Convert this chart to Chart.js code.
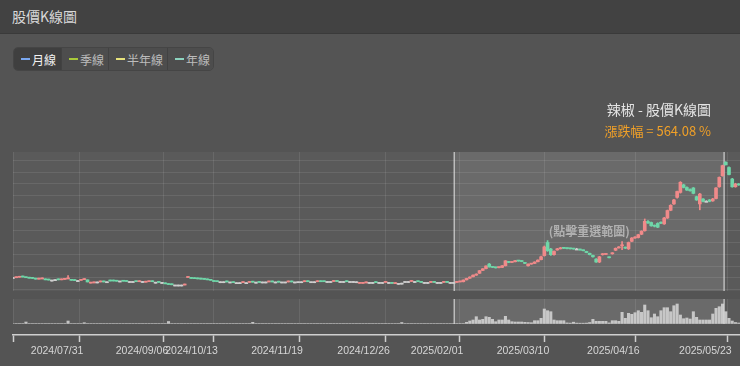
<!DOCTYPE html>
<html lang="zh-Hant">
<head>
<meta charset="utf-8">
<title>股價K線圖</title>
<script src="https://cdn.jsdelivr.net/npm/chart.js@4.4.1/dist/chart.umd.min.js"></script>
<style>
    html, body { margin: 0; padding: 0; width: 740px; height: 366px; overflow: hidden; background: #545454; font-family: "Noto Sans CJK TC", "Noto Sans", sans-serif; }
    .header { position: absolute; left: 0; top: 0; width: 740px; height: 34px; box-sizing: border-box; padding-left: 12px; background: #424242; border-bottom: 1px solid #3a3a3a; color: #d8d8d8; font-size: 14px; line-height: 32px; }
    .btns { position: absolute; left: 13px; top: 47px; height: 24px; display: flex; border-radius: 5px; overflow: hidden; border: 1px solid #454545; box-sizing: border-box; }
    .btns span { display: flex; align-items: center; box-sizing: border-box; padding-left: 7px; font-size: 12px; color: #bcbcbc; background: #4d4d4d; border-left: 1px solid #424242; }
    .btns span.on { background: #3f3f3f; color: #f2f2f2; border-left: none; }
    .btns i { display: inline-block; width: 9px; height: 2px; margin-right: 2px; }
    .ttl { position: absolute; right: 29px; top: 100px; color: #e4e4e4; font-size: 14px; line-height: 18px; white-space: nowrap; }
    .sub { position: absolute; right: 29px; top: 123px; color: #f0a028; font-size: 13px; line-height: 16px; white-space: nowrap; }
    #wrap { position: absolute; left: 0; top: 0; width: 740px; height: 366px; }
</style>
</head>
<body>
<div class="header">股價K線圖</div>
<div class="btns">
    <span class="on" style="width:47px"><i style="background:#7aa7f0"></i>月線</span>
    <span style="width:47px"><i style="background:#a9c93a"></i>季線</span>
    <span style="width:59px"><i style="background:#e6e27c"></i>半年線</span>
    <span style="width:46px"><i style="background:#8cd3bf"></i>年線</span>
</div>
<div id="wrap"><canvas id="kChart" width="740" height="366"></canvas></div>
<div class="ttl">辣椒 - 股價K線圖</div>
<div class="sub">漲跌幅 = 564.08 %</div>

<script>
    // trading day index -> OHLC and volume (lots)
    var open = [
        10.2, 10.1, 10.3, 10.5, 10.2, 10.0, 9.9, 9.6, 9.5, 9.6, 9.4, 9.2, 9.1, 9.3, 9.3,
        9.2, 9.4, 9.6, 9.4, 9.0, 8.9, 9.0, 9.3, 9.2, 7.8, 7.9, 8.3, 8.3, 8.4, 8.4,
        8.8, 8.8, 8.8, 8.7, 8.7, 8.6, 8.5, 8.5, 8.5, 8.4, 8.5, 8.2, 8.4, 8.6, 8.2,
        8.2, 8.1, 7.9, 7.5, 7.2, 7.0, 7.0, 7.0, 7.0, 10.2, 10.0, 9.8, 9.7, 9.6, 9.5,
        9.4, 9.2, 8.6, 8.5, 8.4, 8.4, 8.4, 8.3, 8.1, 8.0, 8.0, 8.0, 8.0, 8.1, 8.3,
        8.2, 8.2, 8.3, 8.3, 8.3, 8.4, 8.3, 8.4, 8.3, 8.3, 8.3, 8.4, 8.3, 8.4, 8.4,
        8.4, 8.5, 8.4, 8.4, 8.4, 8.6, 8.5, 8.5, 8.5, 8.5, 8.6, 8.5, 8.5, 8.5, 8.5,
        8.5, 8.4, 7.7, 7.7, 7.9, 8.1, 8.1, 8.1, 8.1, 8.1, 8.1, 8.1, 8.0, 7.6, 7.7,
        7.8, 8.5, 8.5, 8.5, 8.5, 8.5, 8.2, 8.1, 8.1, 8.1, 8.2, 8.1, 8.1, 8.1, 8.2,
        8.1, 8.1, 8.1, 8.3, 8.4, 9.2, 9.9, 10.5, 11.2, 12.0, 13.2, 14.0, 15.9, 14.7, 14.4,
        14.4, 14.5, 15.2, 16.9, 16.6, 16.9, 17.3, 17.2, 16.6, 15.2, 15.9, 16.2, 16.9, 17.8, 19.5,
        25.1, 22.3, 19.9, 21.9, 22.4, 22.7, 22.6, 22.5, 22.4, 22.3, 22.2, 21.8, 21.3, 20.5, 19.6,
        18.0, 16.8, 19.9, 20.0, 18.9, 20.3, 21.8, 22.8, 23.7, 23.0, 22.4, 25.6, 27.0, 27.2, 28.6,
        30.1, 34.0, 33.6, 32.2, 33.2, 33.6, 33.0, 35.5, 38.8, 41.5, 44.3, 46.4, 49.6, 48.5, 47.6,
        48.3, 44.6, 41.5, 43.6, 42.6, 43.2, 42.8, 43.8, 48.8, 53.5, 59.2, 57.0, 52.1, 48.8, 50.0
    ];
    var close = [
        10.2, 10.3, 10.5, 10.4, 10.1, 9.9, 9.8, 9.5, 9.7, 9.7, 9.2, 9.1, 9.1, 9.3, 9.2,
        9.3, 9.6, 9.9, 9.0, 8.9, 8.9, 9.3, 9.4, 8.3, 8.0, 8.1, 8.3, 8.4, 8.3, 8.4,
        8.7, 8.7, 8.6, 8.7, 8.6, 8.5, 8.5, 8.5, 8.4, 8.5, 8.5, 8.4, 8.8, 8.4, 8.2,
        8.1, 8.1, 7.5, 7.2, 7.1, 7.0, 7.0, 7.0, 7.1, 10.3, 9.8, 9.7, 9.6, 9.5, 9.4,
        9.2, 9.0, 8.5, 8.4, 8.4, 8.4, 8.3, 8.3, 8.0, 8.0, 8.0, 8.1, 8.0, 8.3, 8.2,
        8.2, 8.1, 8.3, 8.3, 8.4, 8.3, 8.3, 8.2, 8.3, 8.3, 8.4, 8.3, 8.3, 8.4, 8.4,
        8.5, 8.4, 8.4, 8.4, 8.5, 8.4, 8.4, 8.5, 8.5, 8.6, 8.5, 8.5, 8.5, 8.4, 8.5,
        8.5, 8.4, 7.8, 7.9, 8.0, 8.1, 8.1, 8.0, 8.1, 8.1, 8.2, 8.1, 7.7, 7.8, 7.7,
        7.8, 8.5, 8.5, 8.6, 8.5, 8.4, 8.1, 8.1, 8.1, 8.2, 8.1, 8.1, 8.1, 8.2, 8.1,
        8.1, 8.1, 8.2, 8.4, 9.1, 9.8, 10.4, 11.2, 11.6, 13.1, 13.9, 15.1, 14.7, 14.5, 14.3,
        14.6, 15.2, 17.3, 16.6, 16.9, 17.4, 17.2, 17.0, 16.2, 15.9, 16.0, 16.8, 17.6, 19.0, 23.2,
        21.6, 19.9, 21.3, 22.4, 22.8, 22.6, 22.5, 22.4, 22.3, 22.3, 21.9, 21.6, 20.8, 19.9, 19.0,
        16.8, 19.0, 20.2, 20.1, 18.6, 20.7, 22.6, 23.2, 23.8, 22.7, 25.1, 27.0, 27.3, 28.4, 29.9,
        34.1, 33.4, 32.2, 32.0, 31.6, 33.3, 35.5, 38.7, 40.9, 43.2, 46.8, 50.7, 48.5, 47.4, 47.1,
        46.0, 43.2, 45.7, 42.6, 42.6, 42.6, 43.6, 48.3, 52.8, 57.8, 58.2, 54.0, 48.8, 50.0, 49.6
    ];
    var high = [
        10.2, 10.3, 10.5, 10.5, 10.2, 10.0, 9.9, 9.6, 9.7, 9.7, 9.4, 9.2, 9.1, 9.3, 9.3,
        9.3, 9.6, 11.0, 9.4, 9.0, 8.9, 9.3, 9.4, 9.2, 8.0, 8.1, 8.3, 8.4, 8.4, 8.4,
        8.8, 8.8, 8.8, 8.7, 8.7, 8.6, 8.5, 8.5, 8.5, 8.5, 8.5, 8.4, 8.8, 8.6, 8.2,
        8.2, 8.1, 7.9, 7.5, 7.2, 7.0, 7.0, 7.0, 7.1, 10.4, 10.0, 9.8, 9.7, 9.6, 9.5,
        9.4, 9.2, 8.6, 8.5, 8.4, 8.4, 8.4, 8.3, 8.1, 8.0, 8.0, 8.1, 8.0, 8.3, 8.3,
        8.2, 8.2, 8.3, 8.3, 8.4, 8.4, 8.3, 8.4, 8.3, 8.3, 8.4, 8.4, 8.3, 8.4, 8.4,
        8.5, 8.5, 8.4, 8.4, 8.5, 8.6, 8.5, 8.5, 8.5, 8.6, 8.6, 8.5, 8.5, 8.5, 8.5,
        8.5, 8.4, 7.8, 7.9, 8.0, 8.1, 8.1, 8.1, 8.1, 8.1, 8.2, 8.1, 8.0, 7.8, 7.7,
        7.8, 8.5, 8.5, 8.6, 8.5, 8.5, 8.2, 8.1, 8.1, 8.2, 8.2, 8.1, 8.1, 8.2, 8.2,
        8.1, 8.1, 8.2, 8.4, 9.2, 9.9, 10.5, 11.3, 11.8, 13.2, 14.0, 15.2, 16.2, 14.8, 14.5,
        14.7, 15.3, 17.4, 17.0, 17.0, 17.5, 17.4, 17.3, 16.7, 16.0, 16.2, 16.9, 17.7, 19.3, 23.6,
        25.9, 22.6, 21.5, 22.6, 23.0, 22.8, 22.7, 22.6, 22.5, 22.4, 22.3, 21.9, 21.4, 20.6, 19.7,
        18.2, 19.2, 20.4, 20.3, 19.0, 20.8, 22.8, 23.4, 25.5, 23.2, 25.3, 27.2, 27.6, 28.6, 30.1,
        35.1, 34.4, 33.8, 32.6, 33.5, 33.9, 35.8, 38.9, 41.2, 43.5, 47.0, 51.0, 49.9, 48.8, 47.9,
        48.5, 44.8, 46.0, 43.8, 42.9, 43.4, 43.9, 48.5, 53.0, 58.0, 59.5, 57.3, 52.4, 50.3, 50.2
    ];
    var low = [
        10.2, 10.1, 10.3, 10.4, 10.1, 9.9, 9.8, 9.5, 9.5, 9.6, 9.2, 9.1, 9.1, 9.3, 9.2,
        9.2, 9.4, 9.6, 9.0, 8.9, 8.9, 9.0, 9.3, 8.3, 7.8, 7.9, 8.3, 8.3, 8.3, 8.4,
        8.7, 8.7, 8.6, 8.7, 8.6, 8.5, 8.5, 8.5, 8.4, 8.4, 8.5, 8.2, 8.4, 8.4, 8.2,
        8.1, 8.1, 7.5, 7.2, 7.1, 7.0, 7.0, 7.0, 7.0, 10.2, 9.8, 9.7, 9.6, 9.5, 9.4,
        9.2, 9.0, 8.5, 8.4, 8.4, 8.4, 8.3, 8.3, 8.0, 8.0, 8.0, 8.0, 8.0, 8.1, 8.2,
        8.2, 8.1, 8.3, 8.3, 8.3, 8.3, 8.3, 8.2, 8.3, 8.3, 8.3, 8.3, 8.3, 8.4, 8.4,
        8.4, 8.4, 8.4, 8.4, 8.4, 8.4, 8.4, 8.5, 8.5, 8.5, 8.5, 8.5, 8.5, 8.4, 8.5,
        8.5, 8.4, 7.7, 7.7, 7.9, 8.1, 8.1, 8.0, 8.1, 8.1, 8.1, 8.1, 7.7, 7.6, 7.7,
        7.8, 8.5, 8.5, 8.5, 8.5, 8.4, 8.1, 8.1, 8.1, 8.1, 8.1, 8.1, 8.1, 8.1, 8.1,
        8.1, 8.1, 8.1, 8.3, 8.3, 9.1, 9.8, 10.4, 11.1, 11.9, 13.1, 13.9, 14.6, 14.4, 14.2,
        14.3, 14.4, 15.1, 16.5, 16.5, 16.8, 17.1, 16.9, 16.1, 15.0, 15.8, 16.1, 16.8, 17.7, 19.3,
        21.3, 19.6, 19.7, 21.8, 22.3, 22.5, 22.4, 22.3, 22.2, 22.2, 21.8, 21.5, 20.7, 19.8, 18.9,
        16.6, 16.5, 19.7, 19.9, 18.5, 20.1, 21.6, 22.7, 22.0, 22.5, 22.1, 25.4, 26.8, 27.0, 28.4,
        29.9, 33.2, 32.0, 31.7, 31.4, 33.1, 32.8, 35.3, 38.6, 41.3, 44.0, 46.1, 48.3, 47.2, 46.9,
        45.8, 43.0, 39.0, 42.4, 42.4, 42.4, 42.6, 43.6, 48.6, 53.3, 58.0, 53.8, 48.6, 48.6, 49.4
    ];
    var volume = [
        0, 0, 0, 0, 150, 0, 0, 0, 0, 0, 0, 0, 0, 0, 0,
        0, 0, 250, 0, 0, 0, 0, 80, 0, 0, 0, 0, 0, 0, 0,
        0, 0, 0, 0, 0, 0, 0, 0, 0, 0, 0, 0, 0, 0, 0,
        0, 0, 0, 200, 0, 0, 0, 0, 0, 0, 0, 0, 0, 0, 0,
        0, 0, 0, 0, 0, 0, 0, 0, 0, 0, 0, 0, 0, 0, 120,
        0, 0, 0, 0, 0, 0, 0, 0, 0, 0, 0, 0, 0, 0, 0,
        0, 0, 0, 0, 0, 0, 0, 0, 0, 0, 0, 0, 0, 0, 0,
        0, 0, 0, 0, 0, 0, 0, 0, 0, 0, 0, 0, 0, 0, 0,
        100, 0, 0, 0, 0, 0, 0, 0, 0, 0, 0, 0, 0, 0, 0,
        0, 0, 0, 0, 0, 120, 250, 350, 680, 350, 420, 680, 620, 420, 180,
        350, 350, 720, 350, 180, 150, 150, 150, 120, 100, 80, 280, 280, 520, 1450,
        1280, 1180, 350, 280, 280, 280, 60, 40, 130, 40, 30, 30, 40, 100, 420,
        220, 220, 220, 220, 60, 280, 280, 220, 1120, 520, 1020, 920, 1080, 1280, 1120,
        1850, 1280, 580, 950, 680, 1280, 1580, 1580, 1180, 1780, 1950, 850, 480, 550, 450,
        1180, 620, 350, 350, 350, 350, 950, 1520, 1680, 1950, 1180, 520, 250, 100, 50
    ];

    // date ticks on the ordinal (trading day) axis
    var tickIndex = [0, 20.4, 46.6, 61.9, 88.3, 115.0, 137.7, 164.2, 192.1, 220.5];
    var tickLabels = ['', '2024/07/31', '2024/09/06', '2024/10/13', '2024/11/19', '2024/12/26', '2025/02/01', '2025/03/10', '2025/04/16', '2025/05/23'];
    var priceGrid = [5, 10, 15, 20, 25, 30, 35, 40, 45, 50, 55, 60];

    // selected range (trading day index)
    var selStart = 136.2;
    var selEnd = 219.5;

    var upColor = '#f08a8a';
    var downColor = '#6fd6a8';
    var flatColor = '#cfcfcf';

    // pane layout, px from the top of the chart area
    var panes = { mainHeight: 139, volTop: 147, volBottom: 172 };

    function candleColor(i) {
        if (close[i] > open[i]) return upColor;
        if (close[i] < open[i]) return downColor;
        return flatColor;
    }

    var colors = open.map(function (o, i) { return candleColor(i); });
    var bodyData = open.map(function (o, i) { return { x: i, y: [o, close[i]] }; });
    var wickData = high.map(function (h, i) { return { x: i, y: [low[i], h] }; });
    var volData = volume.map(function (v, i) { return { x: i, y: v }; });

    var panePlugin = {
        id: 'panes',
        beforeDraw: function (chart) {
            var ctx = chart.ctx, a = chart.chartArea;
            ctx.save();
            ctx.fillStyle = '#5a5a5a';
            ctx.fillRect(a.left, a.top, a.right - a.left, panes.mainHeight);
            ctx.fillRect(a.left, a.top + panes.volTop, a.right - a.left, panes.volBottom - panes.volTop);
            ctx.restore();
        },
        beforeDatasetsDraw: function (chart) {
            var ctx = chart.ctx, a = chart.chartArea, x = chart.scales.x;
            var w = a.right - a.left;
            ctx.save();
            // gaps between panes hide the grid
            ctx.fillStyle = '#545454';
            ctx.fillRect(a.left, a.top + panes.mainHeight, w, panes.volTop - panes.mainHeight);
            ctx.fillRect(a.left, a.top + panes.volBottom, w, a.bottom - 1 - (a.top + panes.volBottom));

            // selected range
            var x0 = x.getPixelForValue(selStart);
            var x1 = x.getPixelForValue(selEnd);
            ctx.fillStyle = 'rgba(255,255,255,0.1)';
            ctx.fillRect(x0, a.top, x1 - x0, panes.mainHeight);
            ctx.fillRect(x0, a.top + panes.volTop, x1 - x0, panes.volBottom - panes.volTop);

            ctx.strokeStyle = 'rgba(225,225,225,0.7)';
            ctx.lineWidth = 1.5;
            [x0, x1].forEach(function (px) {
                ctx.beginPath();
                ctx.moveTo(px, a.top);
                ctx.lineTo(px, a.top + panes.mainHeight);
                ctx.moveTo(px, a.top + panes.volTop);
                ctx.lineTo(px, a.top + panes.volBottom);
                ctx.stroke();
            });
            ctx.restore();
        },
        afterDatasetsDraw: function (chart) {
            var ctx = chart.ctx, a = chart.chartArea, x = chart.scales.x;
            var cx = (x.getPixelForValue(selStart) + x.getPixelForValue(selEnd)) / 2;
            ctx.save();
            ctx.font = 'bold 12px "Noto Sans CJK TC"';
            ctx.fillStyle = 'rgba(200,200,200,0.75)';
            ctx.textAlign = 'center';
            ctx.textBaseline = 'middle';
            ctx.fillText('(點擊重選範圍)', cx, a.top + 79);
            ctx.restore();
        }
    };

    var canvas = document.getElementById('kChart');

    var chart = new Chart(canvas, {
        type: 'bar',
        data: {
            datasets: [
                {
                    label: 'body',
                    data: bodyData,
                    yAxisID: 'y',
                    backgroundColor: colors,
                    barThickness: 3,
                    minBarLength: 1,
                    grouped: false,
                    order: 1
                },
                {
                    label: 'wick',
                    data: wickData,
                    yAxisID: 'y',
                    backgroundColor: colors,
                    barThickness: 1,
                    minBarLength: 1,
                    grouped: false,
                    order: 2
                },
                {
                    label: 'volume',
                    data: volData,
                    yAxisID: 'v',
                    backgroundColor: 'rgba(215,215,215,0.85)',
                    barThickness: 2.4,
                    grouped: false,
                    order: 3
                }
            ]
        },
        options: {
            responsive: false,
            animation: false,
            layout: { padding: { top: 152, left: 13, right: 0, bottom: 0 } },
            plugins: {
                legend: { display: false },
                tooltip: { enabled: false }
            },
            scales: {
                x: {
                    type: 'linear',
                    min: 0,
                    max: 224.4,
                    offset: false,
                    afterBuildTicks: function (scale) {
                        scale.ticks = tickIndex.map(function (v) { return { value: v }; });
                    },
                    afterFit: function (scale) {
                        scale.height = 31;
                        // labels are shifted left, so no extra room at the ends
                        scale.paddingLeft = 0;
                        scale.paddingRight = 0;
                    },
                    grid: { offset: false, color: 'rgba(255,255,255,0.09)', tickColor: '#cfcfcf', tickLength: 7, tickWidth: 1.5 },
                    border: { color: '#cfcfcf', width: 1.5 },
                    ticks: {
                        color: '#d6d6d6',
                        font: { size: 10.5, family: 'Liberation Sans' },
                        labelOffset: -22,
                        padding: 3,
                        maxRotation: 0,
                        autoSkip: false,
                        callback: function (value, index) { return tickLabels[index]; }
                    }
                },
                y: {
                    min: -14.27,
                    max: 63.6,
                    afterBuildTicks: function (scale) {
                        scale.ticks = priceGrid.map(function (v) { return { value: v }; });
                    },
                    afterFit: function (scale) { scale.width = 0; },
                    ticks: { display: false },
                    grid: { color: 'rgba(255,255,255,0.09)', drawTicks: false },
                    border: { display: false }
                },
                v: {
                    display: false,
                    min: -1150,
                    max: 17150
                }
            }
        },
        plugins: [panePlugin]
    });
</script>
</body>
</html>
